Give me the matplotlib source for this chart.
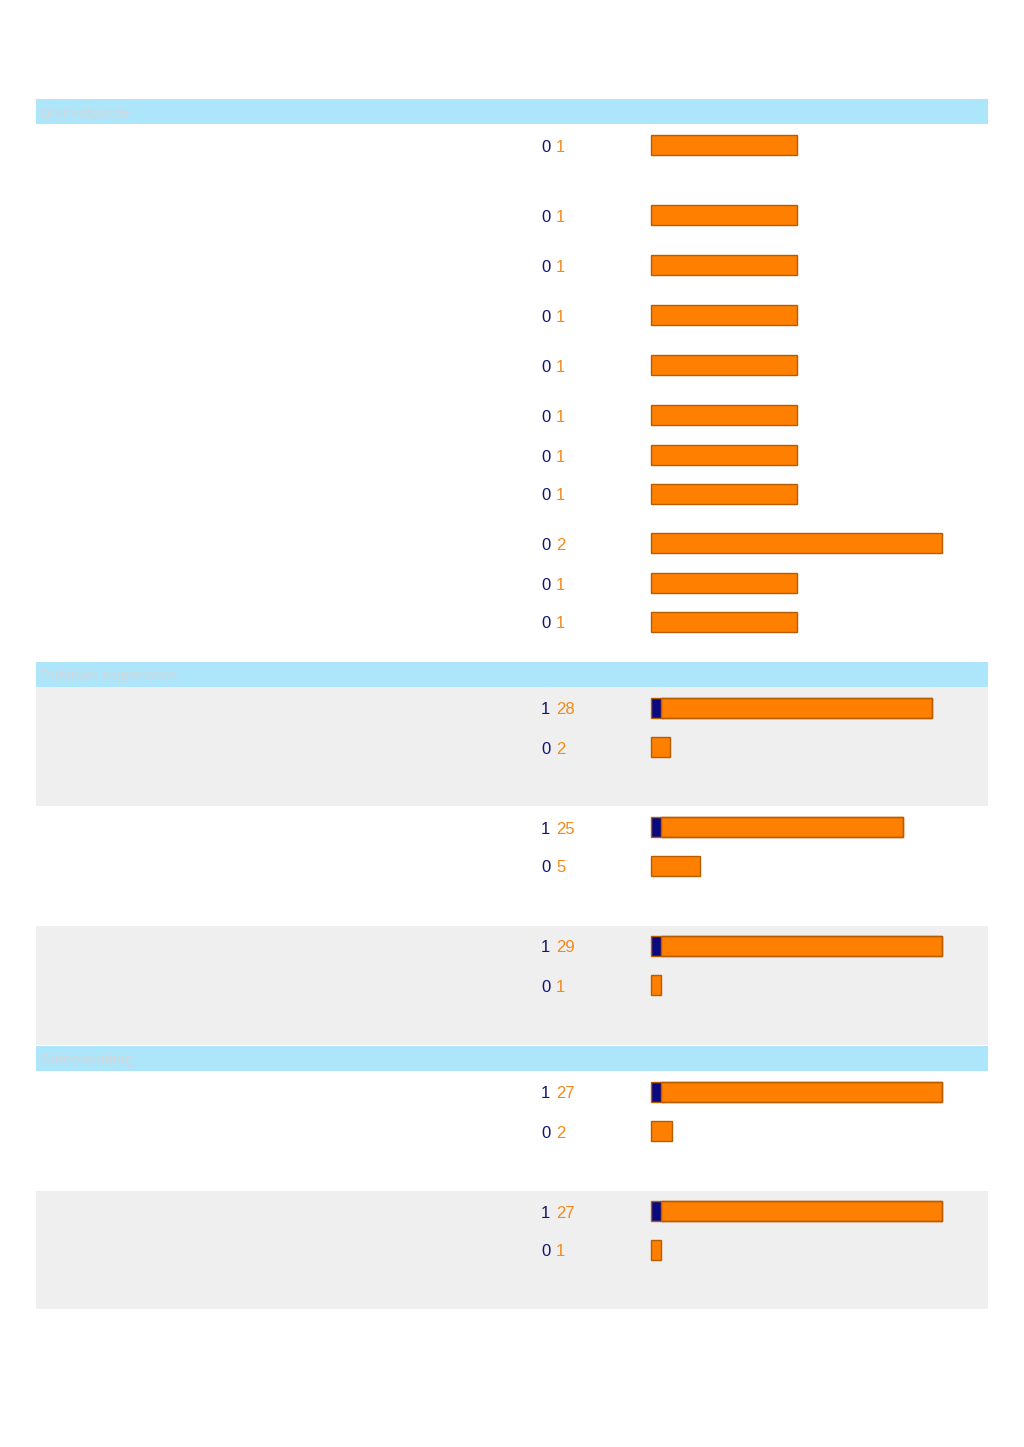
import matplotlib.pyplot as plt

plt.rcParams['font.family'] = ['Liberation Sans', 'DejaVu Sans']

# section titles (very faint in the original)
sections = ["Bronvolgorde", "Publieke registraties", "Samenvatting"]

# per-row values: first (navy) and second (orange) counts
sec1_a = [0, 0, 0, 0, 0, 0, 0, 0, 0, 0, 0]
sec1_b = [1, 1, 1, 1, 1, 1, 1, 1, 2, 1, 1]
sec2_a = [1, 0, 1, 0, 1, 0]
sec2_b = [28, 2, 25, 5, 29, 1]
sec3_a = [1, 0, 1, 0]
sec3_b = [27, 2, 27, 1]

# layout (pixels)
W, H = 1024, 1447
X0, XLEN = 651, 291
BAR_H = 20
sec1_y = [145, 215, 265, 315, 365, 415, 455, 494, 543, 583, 622]
sec2_y = [708, 747, 827, 866, 946, 985]
sec3_y = [1092, 1131, 1211, 1250]
head_y = [99, 662, 1046]
gray_bands = [(687, 806), (926, 1045), (1191, 1309)]

NAVY = "#0a0a80"
ORANGE = "#ff8000"
EDGE = "#b85c00"
TXT_NAVY = "#141470"
TXT_ORANGE = "#f08a1c"

fig = plt.figure(figsize=(W / 100, H / 100), dpi=100)
ax = fig.add_axes([0, 0, 1, 1])
ax.set_xlim(0, W)
ax.set_ylim(H, 0)
ax.axis("off")

for y0, y1 in gray_bands:
    ax.axhspan(y0, y1, xmin=36 / W, xmax=988 / W, color="#efefef", lw=0)

for y, title in zip(head_y, sections):
    ax.axhspan(y, y + 25, xmin=36 / W, xmax=988 / W, color="#ade5fa", lw=0)
    ax.text(40, y + 14, title, color="#d2d8dc", fontsize=11, va="center")


def draw_section(ys, a, b):
    mx = max(x + z for x, z in zip(a, b))
    scale = XLEN / mx
    for y, va, vb in zip(ys, a, b):
        wa = va * scale
        wb = vb * scale
        if va:
            ax.barh(y, wa, left=X0, height=BAR_H, color=NAVY, lw=0)
        ax.barh(y, wb, left=X0 + wa, height=BAR_H, color=ORANGE,
                edgecolor=EDGE, lw=1)
        if va:
            ax.barh(y, wa + wb, left=X0, height=BAR_H, fill=False,
                    edgecolor=EDGE, lw=1)
        ax.text(541, y + 2, str(va), color=TXT_NAVY, fontsize=12, va="center")
        ax.text(556, y + 2, str(vb), color=TXT_ORANGE, fontsize=12, va="center")


draw_section(sec1_y, sec1_a, sec1_b)
draw_section(sec2_y, sec2_a, sec2_b)
draw_section(sec3_y, sec3_a, sec3_b)

fig.savefig("out.png", dpi=100, facecolor="white")
